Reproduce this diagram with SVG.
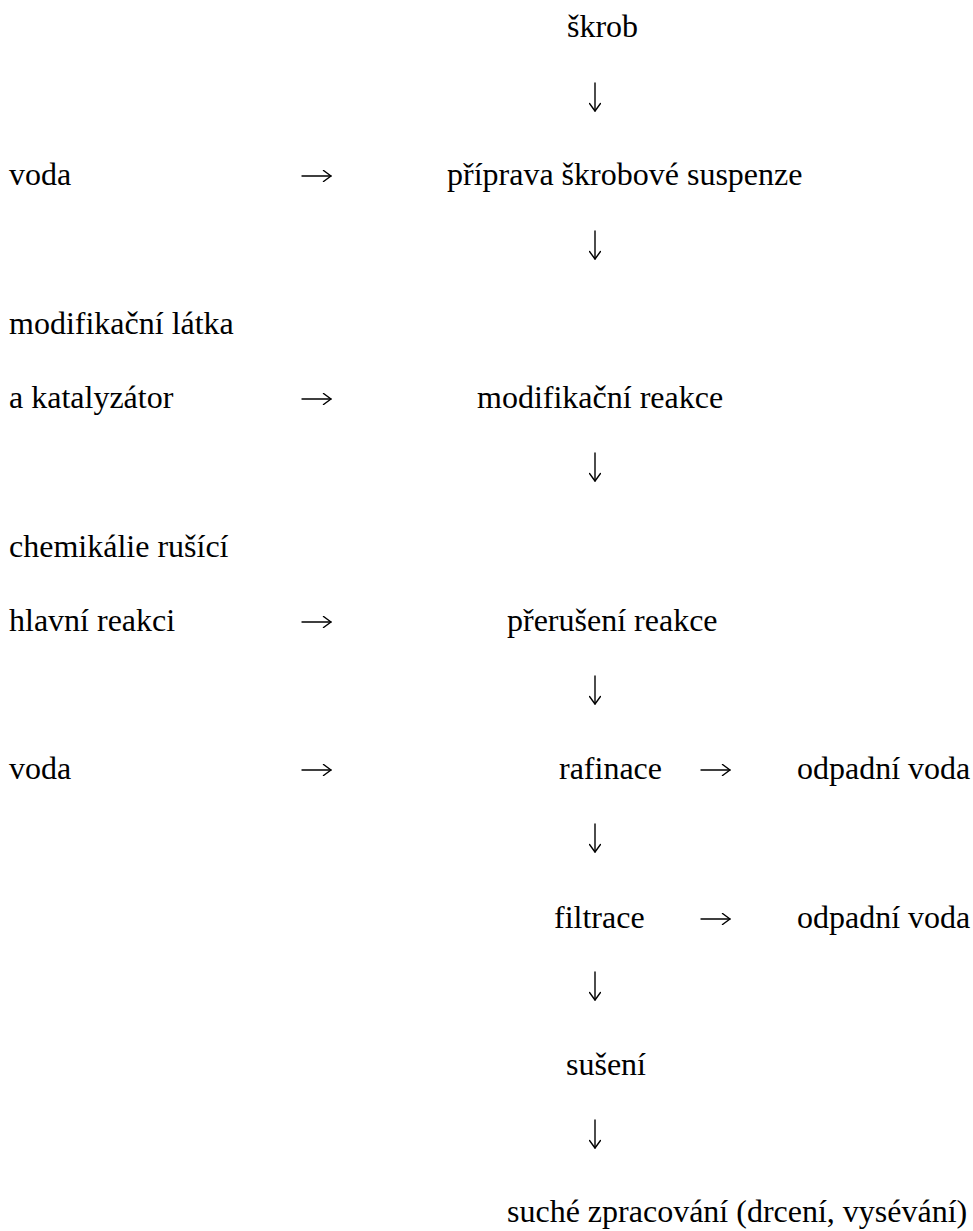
<svg xmlns="http://www.w3.org/2000/svg" width="973" height="1231" viewBox="0 0 973 1231">
<style>
text{font-family:"Liberation Serif","Times New Roman",serif;font-size:32px;fill:#000}
.c{fill:none;stroke:#000;stroke-width:1.4;stroke-linecap:round;stroke-linejoin:round}
</style>
<defs>
<marker id="ah" viewBox="0 0 10 12" refX="9" refY="6" markerWidth="10" markerHeight="12" markerUnits="userSpaceOnUse" orient="auto">
<path d="M1.5,0.5 L9,6 L1.5,11.5" fill="none" stroke="#000" stroke-width="1.4" stroke-linecap="round" stroke-linejoin="round"/>
</marker>
</defs>
<rect width="973" height="1231" fill="#fff"/>
<g id="n-skrob"><text x="567" y="37">škrob</text></g>
<g id="n-voda1"><text x="9" y="185">voda</text></g>
<g id="n-priprava"><text x="447" y="185">příprava škrobové suspenze</text></g>
<g id="n-modlatka"><text x="9" y="334">modifikační látka</text><text x="9" y="408">a katalyzátor</text></g>
<g id="n-modreakce"><text x="477" y="408">modifikační reakce</text></g>
<g id="n-chem"><text x="9" y="557">chemikálie rušící</text><text x="9" y="631">hlavní reakci</text></g>
<g id="n-preruseni"><text x="507" y="631">přerušení reakce</text></g>
<g id="n-voda2"><text x="9" y="779">voda</text></g>
<g id="n-rafinace"><text x="559" y="779">rafinace</text></g>
<g id="n-odpad1"><text x="797" y="779">odpadní voda</text></g>
<g id="n-filtrace"><text x="554" y="928">filtrace</text></g>
<g id="n-odpad2"><text x="797" y="928">odpadní voda</text></g>
<g id="n-suseni"><text x="566" y="1075">sušení</text></g>
<g id="n-suche"><text x="507" y="1222">suché zpracování (drcení, vysévání)</text></g>
<g id="connectors">
<path class="c" d="M595,83 V111" marker-end="url(#ah)"/>
<path class="c" d="M302,176 H331" marker-end="url(#ah)"/>
<path class="c" d="M595,231 V259" marker-end="url(#ah)"/>
<path class="c" d="M302,399 H331" marker-end="url(#ah)"/>
<path class="c" d="M595,453 V481" marker-end="url(#ah)"/>
<path class="c" d="M302,622 H331" marker-end="url(#ah)"/>
<path class="c" d="M595,676 V704" marker-end="url(#ah)"/>
<path class="c" d="M302,770 H331" marker-end="url(#ah)"/>
<path class="c" d="M701,770 H730" marker-end="url(#ah)"/>
<path class="c" d="M595,824 V852" marker-end="url(#ah)"/>
<path class="c" d="M701,919 H730" marker-end="url(#ah)"/>
<path class="c" d="M595,972 V1000" marker-end="url(#ah)"/>
<path class="c" d="M595,1120 V1148" marker-end="url(#ah)"/>
</g>
</svg>
